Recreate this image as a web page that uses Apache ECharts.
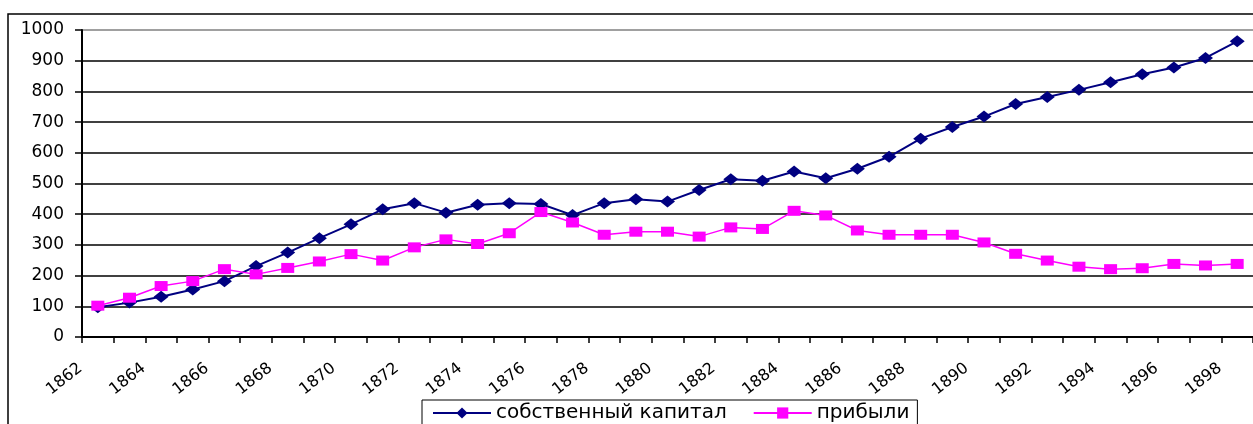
<!DOCTYPE html>
<html>
<head>
<meta charset="utf-8">
<script src="https://cdn.jsdelivr.net/npm/echarts@6/dist/echarts.min.js"></script>
<style>
  html, body { margin: 0; padding: 0; background: #fff; }
  #chart { width: 1253px; height: 424px; }
</style>
</head>
<body>
<div id="chart"></div>
<script>
// years on the category axis
const years = [
  '1862', '1863', '1864', '1865', '1866', '1867', '1868', '1869', '1870', '1871',
  '1872', '1873', '1874', '1875', '1876', '1877', '1878', '1879', '1880', '1881',
  '1882', '1883', '1884', '1885', '1886', '1887', '1888', '1889', '1890', '1891',
  '1892', '1893', '1894', '1895', '1896', '1897', '1898'
];

// собственный капитал
const capital = [
  97, 112, 131, 155, 182, 231, 275, 322, 367, 416,
  436, 405, 431, 436, 433, 397, 436, 449, 441, 479,
  514, 509, 539, 517, 548, 587, 646, 684, 718, 759,
  782, 805, 830, 856, 878, 909, 963
];

// прибыли
const profits = [
  102, 128, 166, 182, 221, 204, 225, 246, 270, 249,
  292, 318, 303, 338, 407, 373, 333, 343, 343, 327,
  357, 352, 411, 396, 347, 333, 333, 333, 308, 271,
  249, 229, 221, 224, 238, 233, 238
];

const FONT = 'DejaVu Sans';

const chart = echarts.init(document.getElementById('chart'));

// split lines: black, except the top border of the plot which is grey
const gridColors = ['#000', '#000', '#000', '#000', '#000', '#000',
  '#000', '#000', '#000', '#000', '#808080'];

const option = {
  backgroundColor: '#fff',
  animation: false,
  graphic: [
    {
      type: 'rect',
      shape: { x: 8, y: 14, width: 1400, height: 600 },
      style: { fill: 'none', stroke: '#000', lineWidth: 1.5 },
      z: -1,
    },
  ],
  grid: {
    left: 82,
    top: 30,
    right: -7,
    bottom: 87,
  },
  legend: {
    left: 422,
    top: 400,
    padding: [3, 8, 8, 10],
    borderColor: '#000',
    borderWidth: 1,
    itemWidth: 58,
    itemHeight: 14,
    itemGap: 26,
    textStyle: { fontFamily: FONT, fontSize: 20, color: '#000' },
    data: ['собственный капитал', 'прибыли'],
  },
  xAxis: {
    type: 'category',
    data: years,
    boundaryGap: true,
    axisLine: { lineStyle: { color: '#000', width: 2 } },
    axisTick: { show: true, interval: 0, length: 6, lineStyle: { color: '#000', width: 1.5 } },
    axisLabel: {
      interval: 1,
      rotate: 38,
      margin: 16,
      padding: [0, 22, 0, 0],
      fontFamily: FONT,
      fontSize: 16,
      color: '#000',
    },
    splitLine: { show: false },
  },
  yAxis: {
    type: 'value',
    min: 0,
    max: 1000,
    interval: 100,
    axisLine: { show: true, lineStyle: { color: '#000', width: 2 } },
    axisTick: { show: true, length: 7, lineStyle: { color: '#000', width: 1.5 } },
    axisLabel: {
      margin: 18,
      fontFamily: FONT,
      fontSize: 17,
      color: '#000',
      formatter: (v) => String(v),
    },
    splitLine: { show: true, lineStyle: { color: gridColors, width: 1.5 } },
  },
  series: [
    {
      name: 'собственный капитал',
      type: 'line',
      data: capital,
      symbol: 'diamond',
      symbolSize: [15, 12],
      lineStyle: { color: '#000080', width: 2 },
      itemStyle: { color: '#000080' },
    },
    {
      name: 'прибыли',
      type: 'line',
      data: profits,
      symbol: 'rect',
      symbolSize: [13, 10],
      lineStyle: { color: '#FF00FF', width: 1.5 },
      itemStyle: { color: '#FF00FF' },
    },
  ],
};

chart.setOption(option);
</script>
</body>
</html>
